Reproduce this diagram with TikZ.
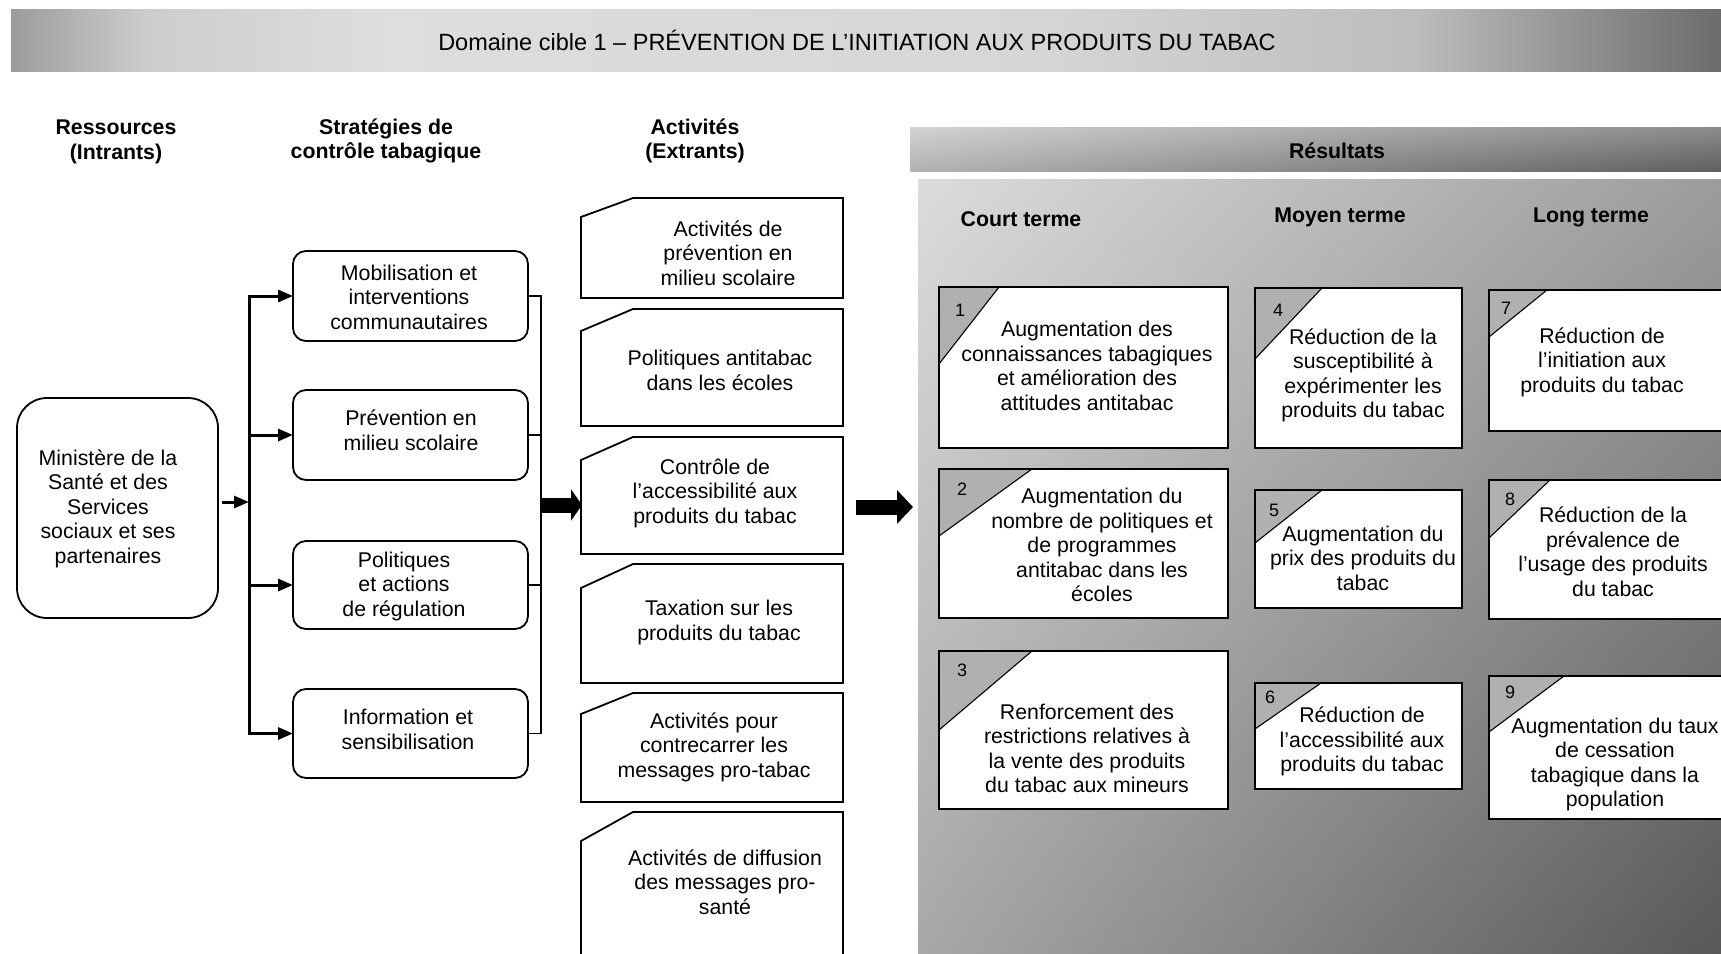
\documentclass[tikz,border=0pt]{standalone}
\usepackage{fontspec}
\setmainfont{Liberation Sans}
\usetikzlibrary{arrows.meta,shadings,calc}
\definecolor{trigray}{HTML}{B0B0B0}
\definecolor{tb1}{HTML}{9C9C9C}
\definecolor{tb2}{HTML}{CDCDCD}
\definecolor{tb3}{HTML}{DEDEDE}
\definecolor{tb4}{HTML}{D6D6D6}
\definecolor{tb5}{HTML}{BDBDBD}
\definecolor{tb6}{HTML}{6C6C6C}
\pgfdeclarehorizontalshading{titleband}{100bp}{color(0bp)=(tb1); color(25bp)=(tb1); color(29bp)=(tb2); color(36bp)=(tb3); color(55bp)=(tb4); color(66bp)=(tb5); color(75bp)=(tb6); color(100bp)=(tb6)}
\newcommand{\actbox}[4]{%
  \node[geo, minimum width=262pt, minimum height=#3pt] (#1) at (581,#2) {};
  \draw[boxline, fill=white] (#1.south west) -- ($(#1.north west)+(0,#4)$) -- ($(#1.north west)+(52,0)$) -- (#1.north east) -- (#1.south east) -- cycle;}
\newcommand{\resbox}[7]{%
  \node[geo, fill=white, minimum width=#4pt, minimum height=#5pt] (#1) at (#2,#3) {};
  \fill[trigray] (#1.north west) -- ($(#1.north west)+(#6,0)$) -- ($(#1.north west)+(0,#7)$) -- cycle;
  \draw[line width=1.1pt] ($(#1.north west)+(#6,0)$) -- ($(#1.north west)+(0,#7)$);
  \draw[boxline] (#1.north west) rectangle (#1.south east);}
\begin{document}
\begin{tikzpicture}[x=1pt,y=-1pt,
  txt/.style={font=\fontsize{21.3}{24.5}\selectfont, align=center, inner sep=0pt},
  hdr/.style={font=\bfseries\fontsize{21.3}{24.5}\selectfont, align=center, inner sep=0pt},
  numtxt/.style={font=\fontsize{18}{20}\selectfont, inner sep=0pt},
  geo/.style={draw=none, inner sep=0pt, outer sep=0pt, anchor=north west},
  boxline/.style={draw=black, line width=1.8pt},
  strat/.style={geo, draw=black, line width=1.8pt, rounded corners=13pt, fill=white},
  arr/.style={line width=3pt, -{Triangle[length=15pt,width=12pt]}},
  coll/.style={line width=1.8pt},
]
\useasboundingbox (0,0) rectangle (1721,953);
\begin{scope}
\clip (0,0) rectangle (1721,953);
% backgrounds
\shade[shading=titleband] (11,9) rectangle (1721,71);
\shade[upper left={rgb,255:red,210;green,210;blue,210}, upper right={rgb,255:red,140;green,140;blue,140},
       lower left={rgb,255:red,178;green,178;blue,178}, lower right={rgb,255:red,95;green,95;blue,95}]
  (910,127) rectangle (1721,171);
\shade[upper left={rgb,255:red,220;green,220;blue,220}, upper right={rgb,255:red,156;green,156;blue,156},
       lower left={rgb,255:red,168;green,168;blue,168}, lower right={rgb,255:red,88;green,88;blue,88}]
  (918,179) rectangle (1721,953);

% headers
\node[font=\fontsize{23.5}{26}\selectfont, inner sep=0pt] (title) at (857,40) {Domaine cible 1 – PRÉVENTION DE L’INITIATION AUX PRODUITS DU TABAC};
\node[hdr] (h1) at (116,142) {Ressources\\(Intrants)};
\node[hdr] (h2) at (386,141) {Stratégies de\\contrôle tabagique};
\node[hdr] (h3) at (695,141) {Activités\\(Extrants)};
\node[hdr] (h4) at (1337,151) {Résultats};
\node[hdr] (h5) at (1021,219) {Court terme};
\node[hdr] (h6) at (1340,217) {Moyen terme};
\node[hdr] (h7) at (1591,217) {Long terme};

% resources
\node[geo, draw=black, line width=1.8pt, rounded corners=30pt, minimum width=201pt, minimum height=220pt] (m) at (17,398) {};
\node[txt] (mt) at (108,508.5) {Ministère de la\\Santé et des\\Services\\sociaux et ses\\partenaires};

% strategies
\node[strat, minimum width=235pt, minimum height=90pt] (s1) at (293,251) {};
\node[strat, minimum width=235pt, minimum height=90pt] (s2) at (293,390) {};
\node[strat, minimum width=235pt, minimum height=88pt] (s3) at (293,541) {};
\node[strat, minimum width=235pt, minimum height=89pt] (s4) at (293,689) {};
\node[txt] (s1t) at (409,297) {Mobilisation et\\interventions\\communautaires};
\node[txt] (s2t) at (411,430.5) {Prévention en\\milieu scolaire};
\node[txt] (s3t) at (404,586) {Politiques\\et actions\\de régulation};
\node[txt] (s4t) at (408,729.5) {Information et\\sensibilisation};

% bus and arrows
\coordinate (busx) at (249,500);
\coordinate (mst) at (222,502);
\coordinate (colx) at (541,500);
\draw[line width=3pt, {Triangle[length=15pt,width=12pt]}-{Triangle[length=15pt,width=12pt]}]
  (s1.west) -- (busx |- s1.west) -- (busx |- s4.west) -- (s4.west);
\draw[arr] (busx |- s2.west) -- (s2.west);
\draw[arr] (busx |- s3.west) -- (s3.west);
\draw[arr] (mst) -- (busx |- mst);
\draw[coll] (s1.east) -- (colx |- s1.east) -- (colx |- s4.east) -- (s4.east);
\draw[coll] (s2.east) -- (colx |- s2.east);
\draw[coll] (s3.east) -- (colx |- s3.east);

% activities
\actbox{a1}{198}{100}{19}
\actbox{a2}{309}{117}{22}
\actbox{a3}{437}{117}{23}
\actbox{a4}{564}{119}{24}
\actbox{a5}{693}{109}{21}
\actbox{a6}{812}{170}{29}
\node[txt] (a1t) at (728,253) {Activités de\\prévention en\\milieu scolaire};
\node[txt] (a2t) at (720,370.5) {Politiques antitabac\\dans les écoles};
\node[txt] (a3t) at (715,493) {Contrôle de\\l’accessibilité aux\\produits du tabac};
\node[txt] (a4t) at (719,622.5) {Taxation sur les\\produits du tabac};
\node[txt] (a5t) at (714,747) {Activités pour\\contrecarrer les\\messages pro-tabac};
\node[txt] (a6t) at (725,882) {Activités de diffusion\\des messages pro-\\santé};

% block arrows
\coordinate (b1s) at (541,505);
\coordinate (b1e) at (582,505);
\coordinate (b2s) at (856,507);
\coordinate (b2e) at (913,507);
\draw[line width=15pt, -{Triangle[length=11pt,width=31pt]}] (b1s) -- (b1e);
\draw[line width=15pt, -{Triangle[length=16pt,width=33pt]}] (b2s) -- (b2e);

% results
\resbox{r1}{939}{287}{289}{161}{60}{77}
\resbox{r2}{939}{469}{289}{149}{93}{67}
\resbox{r3}{939}{651}{289}{158}{93}{79}
\resbox{r4}{1255}{288}{207}{160}{67}{71}
\resbox{r5}{1255}{490}{207}{118}{67}{53}
\resbox{r6}{1255}{683}{207}{106}{66}{46}
\resbox{r7}{1489}{290}{260}{141}{58}{47}
\resbox{r8}{1489}{480}{260}{139}{61}{58}
\resbox{r9}{1489}{676}{260}{143}{75}{56}
\node[numtxt] (r1n) at (960,310) {1};
\node[numtxt] (r2n) at (962,489) {2};
\node[numtxt] (r3n) at (962,670) {3};
\node[numtxt] (r4n) at (1278,310) {4};
\node[numtxt] (r5n) at (1274,510) {5};
\node[numtxt] (r6n) at (1270,697) {6};
\node[numtxt] (r7n) at (1506,308) {7};
\node[numtxt] (r8n) at (1510,499) {8};
\node[numtxt] (r9n) at (1510,692) {9};
\node[txt] (r1t) at (1087,366) {Augmentation des\\connaissances tabagiques\\et amélioration des\\attitudes antitabac};
\node[txt] (r2t) at (1102,545) {Augmentation du\\nombre de politiques et\\de programmes\\antitabac dans les\\écoles};
\node[txt] (r3t) at (1087,748.5) {Renforcement des\\restrictions relatives à\\la vente des produits\\du tabac aux mineurs};
\node[txt] (r4t) at (1363,375.5) {Réduction de la\\susceptibilité à\\expérimenter les\\produits du tabac};
\node[txt] (r5t) at (1363,558) {Augmentation du\\prix des produits du\\tabac};
\node[txt] (r6t) at (1362,741.5) {Réduction de\\l’accessibilité aux\\produits du tabac};
\node[txt] (r7t) at (1602,362) {Réduction de\\l’initiation aux\\produits du tabac};
\node[txt] (r8t) at (1613,552) {Réduction de la\\prévalence de\\l’usage des produits\\du tabac};
\node[txt] (r9t) at (1615,764.5) {Augmentation du taux\\de cessation\\tabagique dans la\\population};
\end{scope}
\end{tikzpicture}
\end{document}
